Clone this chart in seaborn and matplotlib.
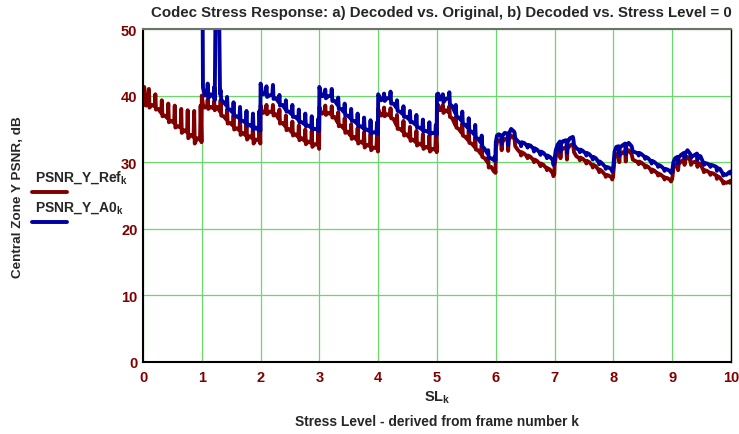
import matplotlib
matplotlib.use("Agg")
import pandas as pd
import seaborn as sns
from matplotlib import pyplot as plt
from matplotlib.lines import Line2D

# position of each sample inside one stress level (fraction of the level)
frame_pos = [0.00, 0.02, 0.05, 0.09, 0.10, 0.11, 0.15, 0.20, 0.21, 0.22,
             0.26, 0.31, 0.32, 0.33, 0.37, 0.42, 0.43, 0.44, 0.48, 0.53,
             0.54, 0.55, 0.59, 0.64, 0.65, 0.66, 0.70, 0.75, 0.76, 0.77,
             0.81, 0.86, 0.87, 0.88, 0.92, 0.97, 0.98, 0.995]

# PSNR_Y_Ref, one list per stress level
ref_sl0 = [38.6, 41.3, 38.5, 38.8, 41.0, 38.2, 38.6, 38.4, 40.2, 37.9,
           38.0, 37.4, 39.3, 36.9, 37.0, 36.6, 38.8, 36.0, 36.2, 35.9,
           38.5, 35.2, 35.4, 35.2, 38.0, 34.4, 34.8, 34.5, 37.8, 33.6,
           34.1, 33.8, 37.7, 32.8, 33.6, 33.4, 38.5, 33.0]
ref_sl1 = [40.0, 38.6, 38.2, 38.4, 39.4, 38.0, 38.3, 38.1, 39.2, 37.8,
           38.3, 37.6, 39.3, 37.0, 36.9, 36.4, 37.9, 35.8, 35.9, 35.5,
           37.1, 34.9, 35.1, 34.8, 36.5, 34.1, 34.4, 34.0, 35.9, 33.4,
           33.9, 33.6, 35.5, 32.8, 33.4, 33.3, 35.3, 32.8]
ref_sl2 = [38.5, 37.7, 37.4, 37.8, 38.6, 37.2, 37.6, 37.5, 38.6, 37.0,
           37.2, 36.5, 37.9, 35.8, 35.9, 35.4, 37.0, 34.8, 35.0, 34.5,
           36.1, 34.0, 34.2, 33.8, 35.5, 33.3, 33.6, 33.2, 34.9, 32.7,
           33.1, 32.9, 34.7, 32.3, 32.7, 32.6, 34.7, 32.0]
ref_sl3 = [38.3, 37.6, 37.3, 37.6, 38.5, 37.1, 37.4, 37.2, 38.4, 36.7,
           36.8, 36.0, 37.5, 35.4, 35.5, 35.0, 36.6, 34.4, 34.6, 34.0,
           35.7, 33.5, 33.8, 33.3, 35.1, 32.8, 33.1, 32.8, 34.5, 32.2,
           32.6, 32.4, 34.3, 31.8, 32.2, 32.1, 34.2, 31.6]
ref_sl4 = [38.0, 37.4, 37.0, 37.4, 38.2, 36.9, 37.2, 37.0, 38.1, 36.6,
           36.5, 35.6, 37.1, 35.0, 35.0, 34.6, 36.2, 34.0, 34.2, 33.7,
           35.3, 33.2, 33.4, 33.0, 34.7, 32.5, 32.8, 32.5, 34.2, 32.0,
           32.3, 32.1, 34.0, 31.6, 32.0, 31.9, 33.9, 31.5]
ref_sl5 = [38.0, 38.6, 37.8, 38.0, 38.6, 37.4, 37.8, 37.5, 38.4, 36.8,
           36.6, 35.6, 36.8, 35.2, 35.0, 34.4, 35.8, 34.0, 33.8, 33.3,
           34.8, 32.9, 32.8, 32.3, 33.8, 31.9, 31.8, 31.2, 32.6, 30.8,
           30.6, 30.0, 30.6, 29.2, 29.3, 28.6, 29.0, 28.4]
ref_sl6 = [32.0, 33.0, 33.3, 33.1, 31.8, 33.0, 33.5, 33.4, 31.7, 33.3,
           34.0, 33.6, 33.4, 32.4, 31.9, 31.4, 31.0, 31.5, 31.3, 30.9,
           30.6, 31.0, 30.8, 30.3, 30.0, 30.4, 30.2, 29.7, 29.4, 29.8,
           29.6, 29.1, 28.8, 29.1, 28.9, 28.3, 27.9, 28.2]
ref_sl7 = [29.5, 30.8, 31.6, 32.0, 30.6, 31.8, 32.1, 32.2, 30.4, 32.0,
           32.5, 32.7, 32.3, 31.5, 30.9, 30.6, 30.3, 30.7, 30.5, 30.1,
           29.8, 30.2, 30.0, 29.5, 29.2, 29.6, 29.4, 28.8, 28.5, 28.9,
           28.6, 28.1, 27.8, 28.1, 28.0, 27.7, 27.4, 27.8]
ref_sl8 = [28.5, 30.5, 31.2, 31.3, 30.0, 31.1, 31.4, 31.7, 30.1, 31.4,
           31.8, 31.2, 30.8, 30.4, 30.2, 30.0, 29.7, 30.1, 29.9, 29.5,
           29.2, 29.5, 29.3, 28.8, 28.5, 28.9, 28.7, 28.3, 28.0, 28.3,
           28.1, 27.7, 27.4, 27.7, 27.6, 27.3, 27.1, 27.4]
ref_sl9 = [27.5, 29.0, 29.6, 29.8, 28.8, 29.7, 30.1, 30.4, 29.6, 30.3,
           30.8, 30.2, 29.6, 29.9, 30.0, 30.2, 29.3, 29.9, 29.7, 28.8,
           28.5, 28.8, 28.7, 28.4, 28.1, 28.4, 28.3, 28.0, 27.5, 27.9,
           27.7, 27.1, 26.8, 27.0, 26.9, 27.1, 26.9, 27.2]

# PSNR_Y_A0 (nothing at stress level 0), spikes above 50 are clipped
a0_sl1 = [80.0, 41.2, 40.0, 40.3, 41.8, 39.6, 40.2, 39.8, 41.3, 39.3,
          80.0, 40.2, 40.8, 39.4, 39.0, 38.5, 39.8, 38.0, 37.9, 37.4,
          39.0, 37.0, 36.9, 36.6, 38.3, 36.2, 36.2, 35.9, 37.7, 35.5,
          35.6, 35.3, 37.3, 34.9, 35.2, 34.8, 37.7, 34.7]
a0_sl2 = [41.8, 40.6, 40.2, 40.5, 41.4, 39.8, 40.0, 40.2, 41.6, 39.5,
          39.6, 39.0, 40.1, 38.5, 38.6, 38.0, 39.3, 37.6, 37.6, 37.2,
          38.6, 36.8, 36.8, 36.4, 37.9, 36.0, 36.0, 35.7, 37.3, 35.4,
          35.5, 35.2, 36.9, 34.9, 35.0, 34.9, 36.5, 34.7]
a0_sl3 = [41.3, 40.4, 39.9, 40.2, 40.9, 39.6, 39.9, 40.0, 41.0, 39.2,
          39.2, 38.6, 39.7, 38.0, 38.0, 37.5, 38.8, 37.0, 37.0, 36.6,
          38.0, 36.2, 36.2, 35.8, 37.3, 35.4, 35.4, 35.1, 36.7, 34.8,
          34.9, 34.6, 36.3, 34.3, 34.5, 34.4, 36.0, 34.2]
a0_sl4 = [40.2, 39.8, 39.3, 39.7, 40.3, 39.2, 39.6, 39.6, 40.6, 38.8,
          38.8, 38.2, 39.3, 37.7, 37.6, 37.2, 38.4, 36.8, 36.8, 36.4,
          37.7, 36.0, 36.0, 35.6, 37.1, 35.2, 35.2, 34.9, 36.4, 34.6,
          34.7, 34.5, 36.0, 34.2, 34.4, 34.3, 35.6, 34.1]
a0_sl5 = [40.2, 40.3, 39.4, 39.8, 40.2, 39.0, 39.5, 39.6, 40.5, 38.7,
          38.4, 37.4, 38.6, 36.9, 36.7, 36.2, 37.6, 35.8, 35.6, 35.1,
          36.6, 34.7, 34.6, 34.1, 35.6, 33.7, 33.5, 32.9, 34.0, 32.4,
          32.0, 31.3, 31.8, 30.6, 30.6, 30.3, 30.8, 30.2]
a0_sl6 = [33.0, 34.0, 34.2, 34.0, 32.8, 33.9, 34.4, 34.3, 32.6, 34.2,
          35.0, 34.6, 34.4, 33.6, 33.2, 32.8, 32.4, 33.0, 32.9, 32.5,
          32.2, 32.6, 32.5, 32.0, 31.6, 32.1, 31.9, 31.4, 31.1, 31.6,
          31.4, 30.9, 30.6, 31.0, 30.8, 30.3, 29.6, 30.1]
a0_sl7 = [30.5, 31.8, 32.6, 33.1, 31.6, 32.8, 33.2, 33.3, 31.4, 33.0,
          33.6, 33.8, 33.4, 32.6, 32.1, 31.8, 31.5, 31.9, 31.7, 31.3,
          31.0, 31.4, 31.2, 30.7, 30.4, 30.8, 30.6, 30.0, 29.7, 30.1,
          29.8, 29.3, 29.0, 29.3, 29.2, 28.9, 28.6, 29.0]
a0_sl8 = [29.6, 31.6, 32.3, 32.4, 31.0, 32.2, 32.5, 32.8, 31.2, 32.5,
          32.9, 32.4, 32.0, 31.6, 31.5, 31.3, 31.0, 31.4, 31.2, 30.8,
          30.5, 30.8, 30.6, 30.1, 29.8, 30.2, 30.0, 29.6, 29.3, 29.6,
          29.4, 29.0, 28.7, 29.0, 28.9, 28.6, 28.4, 28.8]
a0_sl9 = [28.6, 30.0, 30.6, 30.8, 29.8, 30.7, 31.1, 31.4, 30.6, 31.3,
          31.8, 31.2, 30.6, 30.9, 31.0, 31.3, 30.4, 31.0, 30.9, 29.9,
          29.6, 29.9, 29.8, 29.6, 29.3, 29.6, 29.5, 29.3, 28.7, 29.1,
          29.0, 28.3, 28.0, 28.2, 28.1, 28.5, 28.3, 28.6]

ref_levels = [ref_sl0, ref_sl1, ref_sl2, ref_sl3, ref_sl4,
              ref_sl5, ref_sl6, ref_sl7, ref_sl8, ref_sl9]
a0_levels = [a0_sl1, a0_sl2, a0_sl3, a0_sl4, a0_sl5,
             a0_sl6, a0_sl7, a0_sl8, a0_sl9]


def to_frame(levels, first_level):
    rows = []
    for i, seg in enumerate(levels):
        for p, v in zip(frame_pos, seg):
            rows.append({"SL": first_level + i + p, "PSNR": v})
    return pd.DataFrame(rows)


ref_df = to_frame(ref_levels, 0)
a0_df = to_frame(a0_levels, 1)

RED = "#800000"
BLUE = "#0000a0"
LW = 2.8

sns.set_style("white")
plt.rcParams["font.family"] = ["Liberation Sans", "DejaVu Sans"]
plt.rcParams["font.weight"] = "bold"
plt.rcParams["mathtext.fontset"] = "custom"
plt.rcParams["mathtext.rm"] = "Liberation Sans:bold"

fig = plt.figure(figsize=(7.39, 4.35), dpi=100)
ax = fig.add_axes([143 / 739, 1 - 363 / 435, 588 / 739, 333 / 435])

sns.lineplot(data=ref_df, x="SL", y="PSNR", color=RED, lw=LW,
             estimator=None, sort=False, ax=ax)
sns.lineplot(data=a0_df, x="SL", y="PSNR", color=BLUE, lw=LW,
             estimator=None, sort=False, ax=ax)

ax.set_xlim(0, 10)
ax.set_ylim(0, 50)
ax.set_xticks(range(0, 11))
ax.set_yticks(range(0, 51, 10))
ax.grid(True, color="#6ad86a", lw=0.9)
ax.tick_params(length=0, labelsize=10.5, labelcolor=RED)
ax.tick_params(axis="x", pad=6)
ax.tick_params(axis="y", pad=4)
for lab in ax.get_xticklabels() + ax.get_yticklabels():
    lab.set_fontweight("bold")
ax.set_xlabel("")
ax.set_ylabel("")
for side in ["left", "bottom", "right"]:
    ax.spines[side].set_color("black")
ax.spines["left"].set_linewidth(1.5)
ax.spines["bottom"].set_linewidth(1.5)
ax.spines["right"].set_linewidth(1.0)
ax.spines["top"].set_color("#707070")
ax.spines["top"].set_linewidth(1.5)

W, H = 739, 435
fig.text(441 / W, 1 - 13 / H, "Codec Stress Response: a) Decoded vs. Original, "
         "b) Decoded vs. Stress Level = 0", ha="center", va="center",
         fontsize=10.8, fontweight="bold")
fig.text(437 / W, 1 - 398 / H, r"SL$_\mathrm{k}$", ha="center", va="center",
         fontsize=10.5, fontweight="bold")
fig.text(437 / W, 1 - 422 / H, "Stress Level - derived from frame number k",
         ha="center", va="center", fontsize=9.9, fontweight="bold")
fig.text(18 / W, 1 - 197 / H, "Central Zone Y PSNR, dB", rotation=90,
         ha="center", va="center", fontsize=9.7, fontweight="bold")

# legend: label above a short line sample, left of the axes
fig.text(35 / W, 1 - 178 / H, r"PSNR_Y_Ref$_\mathrm{k}$", ha="left",
         va="center", fontsize=10, fontweight="bold")
fig.add_artist(Line2D([32 / W, 67 / W], [1 - 193 / H, 1 - 193 / H],
                      color=RED, lw=LW, transform=fig.transFigure))
fig.text(35 / W, 1 - 208 / H, r"PSNR_Y_A0$_\mathrm{k}$", ha="left",
         va="center", fontsize=10, fontweight="bold")
fig.add_artist(Line2D([32 / W, 67 / W], [1 - 223 / H, 1 - 223 / H],
                      color=BLUE, lw=LW, transform=fig.transFigure))

fig.savefig("out.png", dpi=100)
